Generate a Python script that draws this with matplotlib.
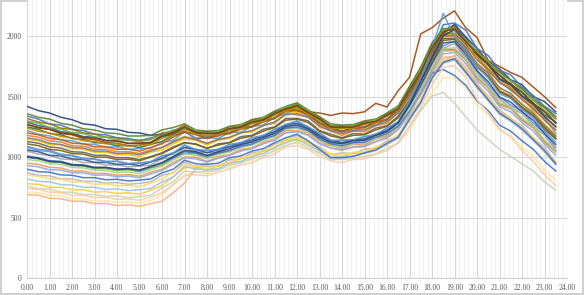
import matplotlib
matplotlib.use("Agg")
import matplotlib.pyplot as plt
from matplotlib.ticker import MultipleLocator, FormatStrFormatter

hours = [h * 0.5 for h in range(48)]

s01 = [1420,1385,1365,1330,1310,1275,1265,1235, 1230,1205,1200,1180,1190,1200,1240,1205, 1200,1195,1235,1240,1285,1295,1355,1390, 1415,1355,1320,1255,1250,1240,1280,1295, 1350,1390,1535,1690,1895,2020,2100,1995, 1900,1790,1730,1640,1600,1500,1460,1375]
s02 = [1270,1245,1230,1195,1185,1155,1145,1120, 1115,1095,1100,1115,1170,1195,1215,1150, 1160,1175,1230,1255,1310,1315,1360,1385, 1415,1375,1365,1345,1365,1360,1375,1445, 1415,1550,1660,2020,2070,2150,2210,2070, 1990,1800,1750,1700,1660,1580,1500,1410]
s03 = [1340,1315,1275,1265,1230,1220,1190,1185, 1160,1155,1135,1160,1180,1225,1235,1210, 1170,1200,1205,1245,1255,1300,1320,1390, 1395,1360,1285,1250,1215,1245,1250,1290, 1310,1400,1530,1715,1890,2095,2110,2050, 1900,1840,1720,1680,1580,1510,1420,1360]
s04 = [1180,1165,1135,1125,1095,1090,1065,1065, 1045,1045,1030,1060,1080,1130,1170,1150, 1110,1150,1160,1205,1210,1265,1280,1360, 1350,1330,1250,1215,1180,1215,1210,1260, 1280,1370,1490,1665,1840,2000,2000,1910, 1760,1690,1550,1510,1410,1360,1250,1170]
s05 = [1050,1025,1015,985,980,955,955,935, 935,920,925,935,985,1000,1080,1040, 1040,1040,1090,1090,1140,1150,1210,1240, 1280,1220,1180,1110,1120,1120,1150,1160, 1220,1260,1430,1560,1770,1900,1940,1810, 1700,1580,1480,1410,1360,1260,1180,1060]
s06 = [1150,1135,1105,1100,1070,1065,1040,1040, 1020,1020,1005,1040,1060,1110,1150,1140, 1100,1140,1155,1200,1210,1260,1290,1370, 1370,1350,1270,1240,1200,1235,1230,1280, 1290,1370,1480,1650,1820,1990,1990,1910, 1770,1700,1570,1530,1440,1380,1270,1190]
s07 = [1220,1190,1175,1145,1135,1110,1105,1085, 1085,1065,1070,1075,1120,1140,1210,1160, 1160,1155,1205,1205,1255,1265,1330,1360, 1400,1335,1290,1215,1220,1215,1255,1265, 1320,1370,1540,1670,1880,2010,2050,1930, 1830,1710,1630,1550,1490,1390,1320,1200]
s08 = [1000,985,960,955,930,925,905,905, 890,895,880,910,935,990,1030,1030, 990,1030,1045,1090,1100,1150,1170,1240, 1240,1220,1140,1110,1085,1120,1115,1160, 1180,1260,1390,1560,1730,1890,1890,1810, 1660,1580,1440,1410,1310,1250,1130,1050]
s09 = [1290,1260,1245,1210,1200,1170,1165,1140, 1135,1115,1115,1120,1170,1185,1250,1195, 1195,1190,1235,1240,1290,1300,1360,1390, 1430,1360,1315,1240,1245,1240,1280,1290, 1355,1400,1570,1710,1930,2050,2090,1970, 1870,1760,1680,1600,1540,1440,1380,1280]
s10 = [1250,1230,1195,1185,1155,1145,1120,1115, 1095,1095,1080,1105,1130,1180,1205,1195, 1155,1190,1195,1240,1250,1300,1320,1390, 1385,1360,1280,1245,1210,1245,1245,1295, 1310,1400,1520,1700,1870,2050,2050,1970, 1840,1770,1650,1610,1510,1450,1350,1290]
s11 = [1090,1065,1055,1025,1015,990,985,965, 965,945,950,960,1010,1025,1100,1055, 1055,1055,1105,1110,1160,1170,1230,1260, 1300,1240,1200,1130,1140,1140,1170,1180, 1240,1280,1450,1580,1790,1920,1960,1830, 1720,1600,1500,1430,1380,1280,1200,1080]
s12 = [950,940,915,910,885,885,865,865, 850,855,843,875,900,955,1000,1000, 965,1005,1020,1065,1075,1125,1150,1220, 1220,1200,1120,1095,1070,1105,1100,1150, 1170,1250,1380,1550,1720,1880,1880,1800, 1650,1570,1430,1400,1300,1240,1120,1040]
s13 = [1320,1290,1275,1240,1230,1200,1190,1165, 1160,1140,1140,1145,1200,1215,1265,1210, 1210,1205,1250,1255,1305,1315,1375,1405, 1440,1375,1330,1260,1260,1255,1295,1300, 1360,1410,1580,1730,1940,2050,2080,1960, 1880,1780,1710,1630,1570,1470,1410,1320]
s14 = [1130,1115,1085,1075,1045,1040,1015,1015, 995,995,980,1005,1035,1085,1120,1110, 1070,1110,1120,1170,1180,1230,1250,1320, 1320,1300,1220,1190,1160,1195,1190,1240, 1260,1340,1470,1640,1810,1980,1980,1890, 1750,1670,1540,1500,1400,1340,1230,1150]
s15 = [870,850,845,820,820,800,800,785, 790,775,783,795,850,870,960,920, 925,925,980,985,1035,1050,1110,1140, 1180,1120,1085,1020,1035,1030,1065,1075, 1135,1175,1340,1470,1680,1800,1840,1720, 1610,1490,1390,1320,1260,1160,1080,960]
s16 = [780,775,750,750,730,730,710,715, 700,705,693,725,765,840,910,920, 890,930,945,990,1000,1050,1070,1140, 1140,1120,1050,1025,1000,1035,1030,1080, 1100,1180,1300,1470,1640,1800,1800,1720, 1570,1490,1350,1320,1220,1160,1040,960]
s17 = [710,705,685,680,655,655,635,640, 625,630,617,645,685,770,850,880, 860,900,915,960,975,1025,1045,1115, 1115,1095,1025,1000,975,1010,1005,1055, 1050,1120,1220,1390,1530,1660,1650,1580, 1430,1350,1220,1180,1080,1010,890,810]
s18 = [760,740,735,710,710,690,690,675, 680,665,673,685,745,795,885,875, 880,890,935,950,990,1010,1055,1095, 1125,1075,1035,980,985,985,1005,1025, 1075,1115,1255,1385,1505,1536,1445,1335, 1225,1145,1065,1005,945,885,795,727]
s19 = [690,685,660,655,635,635,615,617, 600,605,593,615,635,705,785,905, 955,995,1015,1055,1075,1115,1145,1205, 1215,1185,1115,1075,1055,1080,1085,1125, 1155,1225,1355,1515,1685,1825,1835,1745, 1605,1505,1375,1325,1235,1155,1045,945]
s20 = [820,800,795,773,770,750,750,733, 737,723,730,740,795,835,925,900, 895,905,950,965,1005,1030,1080,1120, 1150,1100,1055,1000,1005,1010,1035,1055, 1105,1155,1305,1445,1645,1775,1805,1695, 1575,1465,1355,1295,1225,1135,1045,935]
s21 = [980,970,945,940,915,910,890,890, 873,877,865,895,925,975,1025,1015, 990,1020,1045,1080,1100,1140,1170,1230, 1240,1210,1140,1100,1085,1110,1115,1155, 1185,1255,1395,1565,1745,1895,1905,1815, 1675,1585,1455,1415,1325,1255,1145,1055]
s22 = [1060,1045,1015,1010,985,980,957,957, 940,943,930,960,990,1035,1080,1065, 1035,1065,1085,1120,1140,1180,1210,1270, 1280,1250,1180,1140,1120,1145,1150,1190, 1220,1290,1425,1595,1775,1945,1955,1855, 1715,1625,1495,1455,1375,1305,1195,1105]
s23 = [1010,995,970,965,940,935,915,915, 900,903,890,920,950,995,1045,1035, 1005,1035,1055,1090,1110,1150,1180,1240, 1250,1220,1150,1110,1095,1120,1125,1165, 1195,1255,1375,1525,1695,1725,1675,1595, 1465,1385,1265,1215,1135,1065,965,885]
s24 = [1200,1185,1155,1145,1115,1110,1085,1085, 1065,1065,1050,1080,1110,1165,1210,1185, 1155,1180,1195,1230,1250,1290,1320,1380, 1385,1350,1280,1235,1210,1235,1245,1285, 1315,1385,1515,1675,1855,2015,2025,1935, 1805,1725,1615,1565,1475,1405,1305,1225]
s25 = [1110,1095,1065,1055,1030,1025,1000,1000, 980,983,970,1000,1030,1075,1120,1105, 1075,1100,1120,1155,1175,1215,1245,1305, 1315,1285,1215,1175,1155,1180,1185,1225, 1255,1325,1465,1625,1805,1965,1975,1875, 1745,1665,1545,1495,1415,1345,1245,1155]
s26 = [1360,1330,1315,1280,1265,1235,1225,1200, 1195,1175,1175,1180,1225,1245,1275,1225, 1215,1220,1255,1270,1310,1330,1380,1420, 1450,1390,1335,1275,1265,1270,1300,1315, 1365,1425,1585,1745,1945,2065,2055,1955, 1865,1775,1705,1635,1565,1485,1415,1335]
s27 = [930,920,895,893,870,870,850,853, 837,843,830,860,890,940,995,985, 960,990,1015,1050,1070,1110,1140,1200, 1210,1180,1110,1075,1060,1085,1090,1130, 1160,1230,1365,1525,1705,1855,1865,1775, 1635,1545,1415,1375,1285,1215,1105,1015]
s28 = [1240,1215,1200,1170,1160,1135,1130,1110, 1110,1090,1095,1105,1155,1180,1230,1190, 1180,1185,1220,1235,1275,1295,1345,1385, 1410,1355,1305,1240,1235,1240,1270,1290, 1340,1395,1555,1705,1905,2045,2005,1915, 1835,1735,1645,1575,1505,1415,1335,1245]
s29 = [1160,1145,1115,1105,1080,1075,1050,1050, 1030,1033,1020,1050,1080,1125,1165,1145, 1115,1145,1165,1200,1220,1260,1290,1350, 1360,1330,1260,1220,1195,1220,1225,1265, 1295,1365,1505,1665,1845,2005,2005,1905, 1775,1695,1575,1525,1435,1365,1265,1175]
s30 = [1080,1055,1045,1017,1010,985,983,963, 965,947,953,963,1010,1035,1100,1065, 1055,1065,1105,1120,1160,1180,1230,1270, 1300,1250,1200,1140,1140,1145,1170,1190, 1240,1295,1465,1635,1905,2190,1995,1885, 1745,1655,1525,1485,1395,1325,1215,1125]
s31 = [1000,990,965,960,935,933,913,915, 900,905,893,923,955,1005,1055,1045, 1015,1045,1070,1105,1125,1165,1195,1255, 1265,1235,1165,1125,1110,1135,1140,1180, 1210,1285,1435,1625,1825,2005,2055,1985, 1855,1765,1645,1595,1505,1435,1335,1255]
s32 = [740,733,710,707,685,685,665,667, 651,655,643,670,705,775,845,855, 845,875,900,935,955,995,1025,1085, 1095,1065,1005,970,955,980,985,1025, 1055,1125,1255,1415,1595,1745,1755,1665, 1475,1365,1235,1165,1055,965,855,765]
s33 = [850,843,820,817,795,795,775,778, 763,768,755,785,820,875,935,930, 905,935,960,995,1015,1060,1090,1150, 1160,1130,1065,1030,1015,1040,1045,1085, 1115,1185,1315,1475,1655,1805,1815,1725, 1585,1495,1365,1325,1235,1165,1055,965]
s34 = [900,880,875,853,850,830,830,813, 817,803,810,820,870,900,975,945, 940,950,995,1010,1050,1070,1120,1160, 1190,1135,1065,995,995,1005,1035,1060, 1115,1165,1315,1455,1655,1785,1815,1705, 1585,1475,1365,1305,1235,1145,1055,945]
s35 = [1300,1280,1245,1233,1203,1195,1167,1165, 1143,1143,1125,1150,1180,1220,1245,1220, 1190,1215,1230,1265,1285,1325,1355,1415, 1420,1385,1310,1265,1240,1265,1275,1310, 1340,1415,1555,1725,1905,2055,2055,1975, 1865,1795,1685,1635,1545,1475,1385,1315]
s36 = [1270,1243,1230,1200,1190,1163,1157,1135, 1133,1113,1115,1123,1175,1205,1250,1205, 1195,1200,1235,1250,1290,1310,1360,1400, 1425,1370,1315,1250,1245,1250,1280,1295, 1345,1400,1555,1705,1905,2035,2065,1955, 1855,1765,1675,1605,1535,1445,1375,1285]

series = [s01, s02, s03, s04, s05, s06, s07, s08, s09, s10, s11, s12,
          s13, s14, s15, s16, s17, s18, s19, s20, s21, s22, s23, s24,
          s25, s26, s27, s28, s29, s30, s31, s32, s33, s34, s35, s36]
colors = ["#264478", "#9E480E", "#4472C4", "#ED7D31", "#A5A5A5", "#FFC000",
          "#5B9BD5", "#70AD47", "#255E91", "#43682B", "#698ED0", "#F1975A",
          "#997300", "#636363", "#B7B7B7", "#FFCD33", "#FFE699", "#C9D3B8",
          "#F4B183", "#9DC3E6", "#A9D18E", "#2F5597", "#4472C4", "#C55A11",
          "#7F6000", "#548235", "#8FAADC", "#BF9000", "#7B7B7B", "#5B9BD5",
          "#264478", "#F8CBAD", "#FFD966", "#4472C4", "#70AD47", "#843C0C"]

y_ticks = [0, 500, 1000, 1500, 2000]

fig = plt.figure(figsize=(5.84, 2.95), dpi=100)
fig.patch.set_edgecolor("#D0D0D0")
fig.patch.set_linewidth(1.5)
ax = fig.add_axes([27/584, 17/295, 540/584, 278/295])

for s, c in zip(series, colors):
    ax.plot(hours, s, color=c, lw=1.1, alpha=0.9, solid_joinstyle="round")

ax.set_xlim(0, 24)
ax.set_ylim(0, 2300)
ax.xaxis.set_major_locator(MultipleLocator(1))
ax.xaxis.set_minor_locator(MultipleLocator(0.2))
ax.xaxis.set_major_formatter(FormatStrFormatter("%.2f"))
ax.set_yticks(y_ticks)
ax.grid(which="major", axis="x", color="#D9D9D9", lw=0.8)
ax.grid(which="minor", axis="x", color="#EFEFEF", lw=0.6)
ax.grid(which="major", axis="y", color="#D9D9D9", lw=0.8)
ax.set_axisbelow(True)
for sp in ["top", "right", "left"]:
    ax.spines[sp].set_visible(False)
ax.spines["bottom"].set_color("#D0D0D0")
ax.tick_params(which="both", length=0, labelsize=5.5, colors="#595959", pad=4)
for lab in ax.get_xticklabels() + ax.get_yticklabels():
    lab.set_family("Liberation Serif")

fig.savefig("out.png", dpi=100)
